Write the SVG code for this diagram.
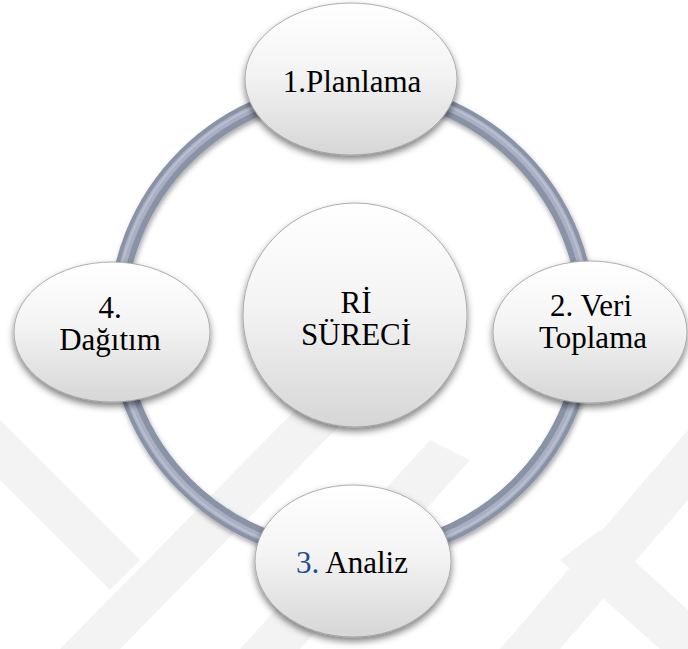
<svg xmlns="http://www.w3.org/2000/svg" width="688" height="649" viewBox="0 0 688 649">
<defs>
<linearGradient id="nodeGrad" x1="0" y1="0" x2="0" y2="1">
<stop offset="0" stop-color="#ffffff"/>
<stop offset="0.45" stop-color="#f4f4f4"/>
<stop offset="1" stop-color="#d6d6d6"/>
</linearGradient>
<filter id="nodeShadow" x="-20%" y="-20%" width="140%" height="150%">
<feDropShadow dx="0" dy="4" stdDeviation="3.5" flood-color="#000" flood-opacity="0.5"/>
</filter>
<filter id="ringShadow" x="-10%" y="-10%" width="120%" height="120%">
<feDropShadow dx="1" dy="3" stdDeviation="2.5" flood-color="#000" flood-opacity="0.35"/>
</filter>
<style>
.wm{fill:#f3f3f3}
.node{fill:url(#nodeGrad);stroke:#9a9a9a;stroke-width:0.8;filter:url(#nodeShadow)}
.lbl{font-family:"Liberation Serif","Times New Roman",serif;font-size:31px;fill:#000;text-anchor:middle}
</style>
</defs>
<rect width="688" height="649" fill="#ffffff"/>
<g id="watermark">
<polygon class="wm" points="0,420 0,480 110,590 140,560"/>
<polygon class="wm" points="60,649 120,649 345,420 305,400"/>
<polygon class="wm" points="240,649 300,649 470,460 430,440"/>
<polygon class="wm" points="500,649 560,649 688,500 688,430"/>
<polygon class="wm" points="560,560 600,530 688,610 688,649 660,649"/>
</g>
<g id="connectors" filter="url(#ringShadow)">
<ellipse cx="352" cy="321" rx="235" ry="233" fill="none" stroke="#8a92a6" stroke-width="17"/>
<ellipse cx="352" cy="321" rx="236" ry="234" fill="none" stroke="#a9b0c3" stroke-width="7"/>
<ellipse cx="352" cy="321" rx="237" ry="235" fill="none" stroke="#b8bfd0" stroke-width="2"/>
</g>
<g id="center">
<ellipse class="node" cx="355" cy="315" rx="112" ry="112"/>
<text class="lbl" x="356" y="313">Rİ</text>
<text class="lbl" x="356" y="345">SÜRECİ</text>
</g>
<g id="n1">
<ellipse class="node" cx="351" cy="79" rx="106" ry="76"/>
<text class="lbl" x="352" y="92">1.Planlama</text>
</g>
<g id="n2">
<ellipse class="node" cx="590" cy="332" rx="97" ry="71"/>
<text class="lbl" x="591" y="316">2. Veri</text>
<text class="lbl" x="593" y="348">Toplama</text>
</g>
<g id="n3">
<ellipse class="node" cx="353" cy="561" rx="98" ry="76"/>
<text class="lbl" x="352" y="573"><tspan fill="#1f4e8c">3.</tspan> Analiz</text>
</g>
<g id="n4">
<ellipse class="node" cx="112" cy="332" rx="98" ry="70"/>
<text class="lbl" x="110" y="318">4.</text>
<text class="lbl" x="110" y="350">Dağıtım</text>
</g>
</svg>
